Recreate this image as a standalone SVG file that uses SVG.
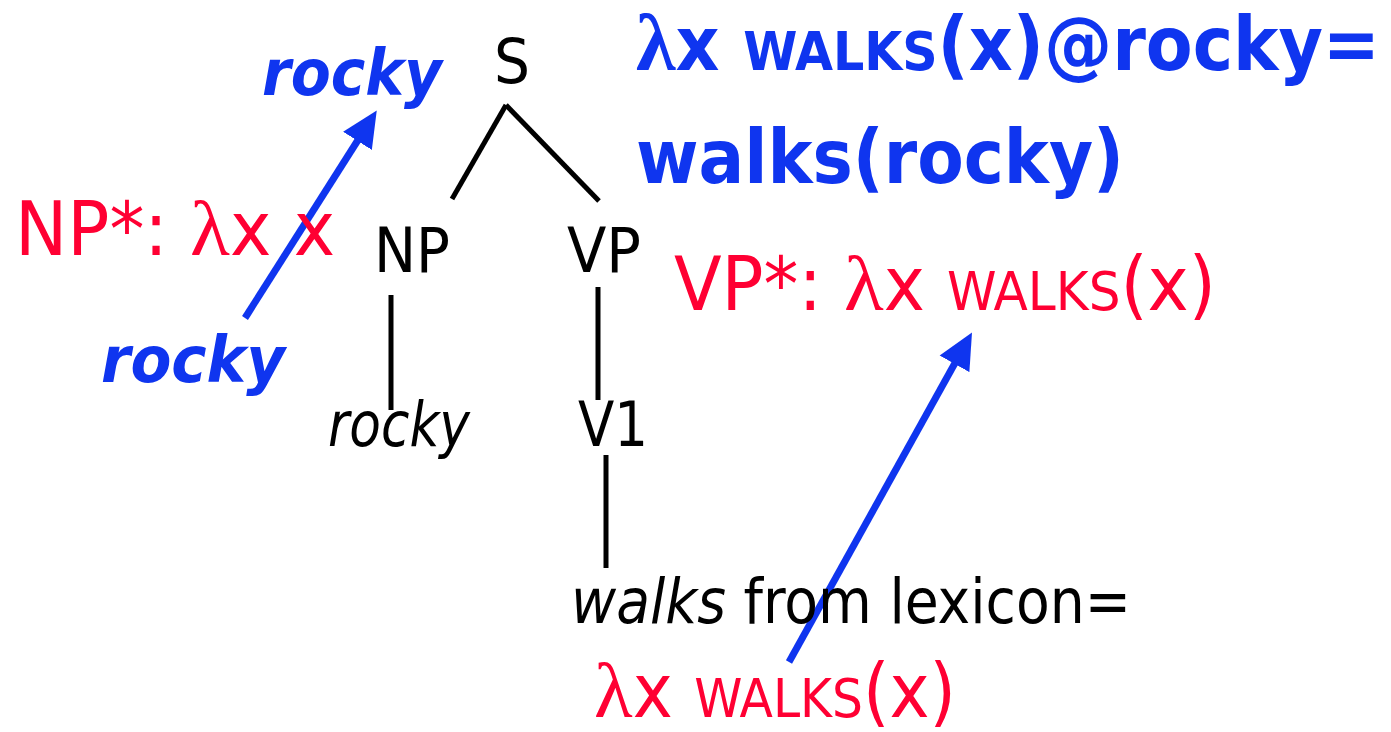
<svg xmlns="http://www.w3.org/2000/svg" width="1391" height="732" viewBox="0 0 1391 732">
  <style>
    text { font-family: "DejaVu Sans Condensed", "DejaVu Sans", sans-serif; }
    .blk { fill: #000; font-size: 63px; }
    .red { fill: #FF0033; font-size: 74px; }
    .blue { fill: #0F35EF; font-size: 75px; font-weight: bold; }
    .bi { fill: #0F35EF; font-size: 64px; font-weight: bold; font-style: italic; }
    .it { font-style: italic; }
    .lam { font-family: "Liberation Serif", serif; font-size: 1.06em; }
    .red .lam { font-weight: normal; }
    .sc { font-size: 0.72em; }
    .tree { stroke: #000; stroke-width: 5; fill: none; }
    .arr { stroke: #0F35EF; stroke-width: 7; fill: none; }
  </style>
  <defs>
    <marker id="head" markerUnits="userSpaceOnUse" viewBox="0 -18 36 36" refX="1" refY="0" markerWidth="36" markerHeight="36" orient="auto">
      <path d="M0,-17 L36,0 L0,17 z" fill="#0F35EF"/>
    </marker>
  </defs>

  <!-- tree edges and derivation arrows -->
  <g id="connectors">
    <line class="tree" x1="506" y1="105" x2="452" y2="199"/>
    <line class="tree" x1="506" y1="105" x2="599" y2="201"/>
    <line class="tree" x1="391" y1="295" x2="391" y2="410"/>
    <line class="tree" x1="598" y1="287" x2="598" y2="400"/>
    <line class="tree" x1="606" y1="455" x2="606" y2="568"/>
    <line class="arr" x1="245" y1="318" x2="358" y2="140" marker-end="url(#head)"/>
    <line class="arr" x1="789" y1="662" x2="955" y2="363" marker-end="url(#head)"/>
  </g>

  <g id="node-S"><text class="blk" x="494" y="83">S</text></g>
  <g id="node-NP"><text class="blk" x="374" y="272" textLength="76" lengthAdjust="spacingAndGlyphs">NP</text></g>
  <g id="node-VP"><text class="blk" x="567" y="272" textLength="74" lengthAdjust="spacingAndGlyphs">VP</text></g>
  <g id="node-rocky"><text class="blk it" x="328" y="446" textLength="142" lengthAdjust="spacingAndGlyphs">rocky</text></g>
  <g id="node-V1"><text class="blk" x="578" y="446" textLength="70" lengthAdjust="spacingAndGlyphs">V1</text></g>
  <g id="node-walks"><text class="blk" x="571" y="623" textLength="560" lengthAdjust="spacingAndGlyphs"><tspan class="it">walks</tspan> from lexicon=</text></g>

  <g id="label-np-sem"><text class="red" x="15" y="255" textLength="320" lengthAdjust="spacingAndGlyphs">NP*: <tspan class="lam">λ</tspan>x x</text></g>
  <g id="label-vp-sem"><text class="red" x="674" y="310" textLength="542" lengthAdjust="spacingAndGlyphs">VP*: <tspan class="lam">λ</tspan>x <tspan class="sc">WALKS</tspan>(x)</text></g>
  <g id="label-lex-sem"><text class="red" x="594" y="717" textLength="362" lengthAdjust="spacingAndGlyphs"><tspan class="lam">λ</tspan>x <tspan class="sc">WALKS</tspan>(x)</text></g>

  <g id="label-rocky-top"><text class="bi" x="262" y="95" textLength="180" lengthAdjust="spacingAndGlyphs">rocky</text></g>
  <g id="label-rocky-bottom"><text class="bi" x="101" y="382" textLength="184" lengthAdjust="spacingAndGlyphs">rocky</text></g>

  <g id="label-result">
    <text class="blue" x="636" y="70" textLength="744" lengthAdjust="spacingAndGlyphs"><tspan class="lam">λ</tspan>x <tspan class="sc">WALKS</tspan>(x)@rocky=</text>
    <text class="blue" x="636" y="183" textLength="488" lengthAdjust="spacingAndGlyphs">walks(rocky)</text>
  </g>
</svg>
